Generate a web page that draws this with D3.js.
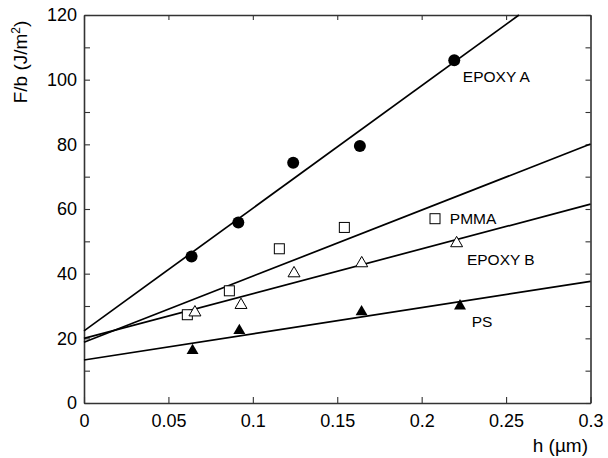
<!DOCTYPE html>
<html>
<head>
<meta charset="utf-8">
<script src="https://cdn.jsdelivr.net/npm/d3@7"></script>
<style>
  body { margin: 0; background: #fff; }
  svg text { font-family: "Liberation Sans", Arial, Helvetica, sans-serif; fill: #000; }
</style>
</head>
<body>
<div id="vis"></div>
<script>
// values
var epoxyA_h = [0.0637, 0.0914, 0.1239, 0.1634, 0.2193];
var epoxyA_F = [45.3, 55.8, 74.3, 79.5, 106.0];
var pmma_h = [0.0612, 0.0861, 0.1157, 0.1542, 0.2079];
var pmma_F = [27.3, 34.7, 47.7, 54.3, 57.0];
var epoxyB_h = [0.0657, 0.0930, 0.1244, 0.1645, 0.2207];
var epoxyB_F = [28.0, 30.3, 40.1, 43.2, 49.4];
var ps_h = [0.0643, 0.0920, 0.1644, 0.2227];
var ps_F = [16.2, 22.4, 28.2, 30.0];

// fitted lines, end points [h, F]
var epoxyA_fit = [[0, 22.3], [0.2576, 120]];
var pmma_fit = [[0, 18.8], [0.3, 80.1]];
var epoxyB_fit = [[0, 20.0], [0.3, 61.5]];
var ps_fit = [[0, 13.3], [0.3, 37.6]];

var xTicks = [0, 0.05, 0.1, 0.15, 0.2, 0.25, 0.3];
var yTicks = [0, 10, 20, 30, 40, 50, 60, 70, 80, 90, 100, 110, 120];
var seriesNames = ["EPOXY A", "PMMA", "EPOXY B", "PS"];

var width = 608, height = 458;
var margin = {top: 15, right: 17.5, bottom: 55, left: 84};

var svg = d3.select("#vis").append("svg")
    .attr("width", width)
    .attr("height", height);

var x = d3.scaleLinear().domain([0, 0.3]).range([margin.left, width - margin.right]);
var y = d3.scaleLinear().domain([0, 120]).range([height - margin.bottom, margin.top]);

var fmtX = function(d) { return String(+d.toFixed(2)); };
var fmtY = function(d) { return d % 20 === 0 ? d : ""; };

////////// axes //////////
var axisColor = "#333";

var axBottom = svg.append("g")
    .attr("transform", "translate(0," + y(0) + ")")
    .call(d3.axisBottom(x).tickValues(xTicks).tickFormat(fmtX).tickSizeInner(-6).tickSizeOuter(0).tickPadding(11));
var axTop = svg.append("g")
    .attr("transform", "translate(0," + y(120) + ")")
    .call(d3.axisTop(x).tickValues(xTicks).tickFormat("").tickSizeInner(-5).tickSizeOuter(0));
var axLeft = svg.append("g")
    .attr("transform", "translate(" + x(0) + ",0)")
    .call(d3.axisLeft(y).tickValues(yTicks).tickFormat(fmtY).tickSizeInner(-6).tickSizeOuter(0).tickPadding(7));
var axRight = svg.append("g")
    .attr("transform", "translate(" + x(0.3) + ",0)")
    .call(d3.axisRight(y).tickValues(yTicks).tickFormat("").tickSizeInner(-5).tickSizeOuter(0));

[axBottom, axTop, axLeft, axRight].forEach(function(g) {
  g.select(".domain").attr("stroke", axisColor).attr("stroke-width", 1.6);
  g.selectAll(".tick line").attr("stroke", axisColor).attr("stroke-width", 1.1);
  g.selectAll(".tick text").attr("font-size", 18).attr("fill", "#000")
    .style("font-family", "'Liberation Sans', Arial, sans-serif");
});

// axis titles
svg.append("text")
    .attr("transform", "translate(26.5," + 62 + ") rotate(-90)")
    .attr("text-anchor", "middle")
    .attr("font-size", 19)
    .html('F/b (J/m<tspan dy="-7" font-size="12">2</tspan><tspan dy="7">)</tspan>');

svg.append("text")
    .attr("x", 588)
    .attr("y", 452)
    .attr("text-anchor", "end")
    .attr("font-size", 19)
    .text("h (\u00b5m)");

////////// fit lines //////////
var plot = svg.append("g");
var line = d3.line().x(function(d) { return x(d[0]); }).y(function(d) { return y(d[1]); });

[epoxyA_fit, pmma_fit, epoxyB_fit, ps_fit].forEach(function(f) {
  plot.append("path")
      .datum(f)
      .attr("d", line)
      .attr("fill", "none")
      .attr("stroke", "#000")
      .attr("stroke-width", 1.7);
});

////////// markers //////////
function pts(hs, fs) {
  return hs.map(function(h, i) { return [h, fs[i]]; });
}

plot.selectAll(".epoxyA").data(pts(epoxyA_h, epoxyA_F)).enter()
  .append("circle")
    .attr("cx", function(d) { return x(d[0]); })
    .attr("cy", function(d) { return y(d[1]); })
    .attr("r", 6)
    .attr("fill", "#000");

plot.selectAll(".pmma").data(pts(pmma_h, pmma_F)).enter()
  .append("rect")
    .attr("x", function(d) { return x(d[0]) - 5; })
    .attr("y", function(d) { return y(d[1]) - 5; })
    .attr("width", 10)
    .attr("height", 10)
    .attr("fill", "#fff")
    .attr("stroke", "#000")
    .attr("stroke-width", 1);

var tri = d3.symbol().type(d3.symbolTriangle).size(62);

plot.selectAll(".epoxyB").data(pts(epoxyB_h, epoxyB_F)).enter()
  .append("path")
    .attr("d", tri)
    .attr("transform", function(d) { return "translate(" + x(d[0]) + "," + y(d[1]) + ")"; })
    .attr("fill", "#fff")
    .attr("stroke", "#000")
    .attr("stroke-width", 1);

plot.selectAll(".ps").data(pts(ps_h, ps_F)).enter()
  .append("path")
    .attr("d", tri)
    .attr("transform", function(d) { return "translate(" + x(d[0]) + "," + y(d[1]) + ")"; })
    .attr("fill", "#000");

////////// series labels //////////
var labelAt = [[0.2244, 99.3], [0.2167, 55.4], [0.2268, 42.7], [0.2296, 23.5]];
seriesNames.forEach(function(name, i) {
  svg.append("text")
      .attr("x", x(labelAt[i][0]))
      .attr("y", y(labelAt[i][1]))
      .attr("font-size", 15.5)
      .text(name);
});
</script>
</body>
</html>
